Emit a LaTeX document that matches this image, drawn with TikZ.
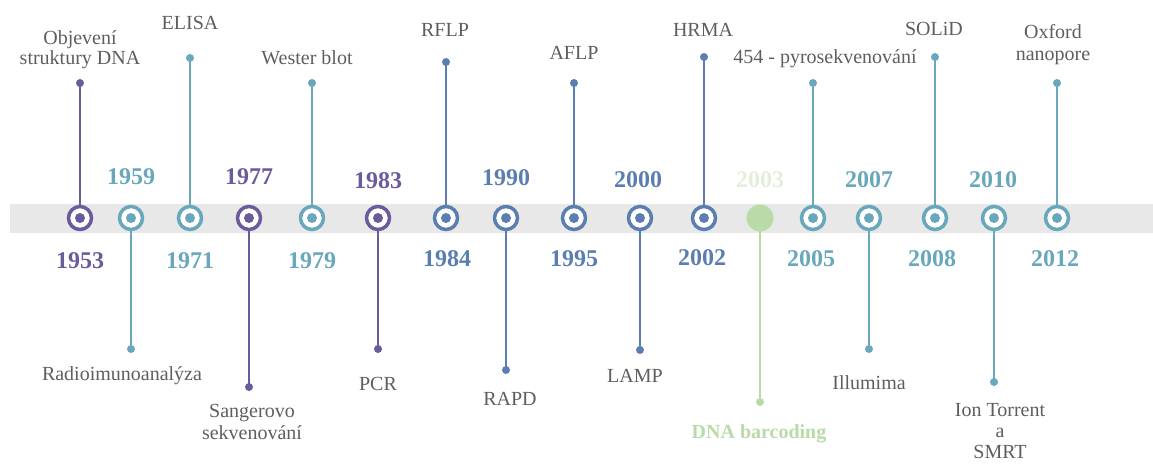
\documentclass[tikz,border=0pt]{standalone}
\usepackage{fontspec}
\setmainfont{Liberation Serif}
\usepackage{xcolor}
\definecolor{purp}{HTML}{6C5B9B}
\definecolor{teal1}{HTML}{68A7BC}
\definecolor{blu}{HTML}{5B7EB1}
\definecolor{grn}{HTML}{B9DBA7}
\definecolor{pale}{HTML}{E3EEDD}
\definecolor{band}{HTML}{E8E8E8}
\definecolor{txt}{HTML}{5E5E5E}
\tikzstyle{ring}=[circle,draw,line width=3.5pt,fill=white,minimum size=23pt,inner sep=0pt]
\tikzstyle{stem}=[line width=2.6pt]
\tikzstyle{year}=[font=\fontsize{24}{26}\selectfont\bfseries]
\tikzstyle{lbl}=[text=txt,align=center,font=\fontsize{20}{22}\selectfont]
\newcommand{\tlpoint}[4]
{  % #1 = year , #2 = x , #3 = colour , #4 = stem end y
  \node[ring,draw=#3] (y#1) at (#2,218) {};
  \fill[#3] (y#1) circle (5pt);
  \coordinate (e#1) at (#2,#4);
  \draw[stem,#3] (y#1) -- (e#1);
  \fill[#3] (e#1) circle (4pt);
}

\begin{document}
\begin{tikzpicture}[x=1pt,y=-1pt]
  \useasboundingbox (0,0) rectangle (1153,464);
  \fill[band] (10,204) rectangle (1153,233);
  \tlpoint{1953}{80}{purp}{83}
  \tlpoint{1959}{131}{teal1}{349}
  \tlpoint{1971}{190}{teal1}{58}
  \tlpoint{1977}{249}{purp}{387}
  \tlpoint{1979}{312}{teal1}{83}
  \tlpoint{1983}{378}{purp}{349}
  \tlpoint{1984}{446}{blu}{62}
  \tlpoint{1990}{506}{blu}{370}
  \tlpoint{1995}{574}{blu}{83}
  \tlpoint{2000}{640}{blu}{350}
  \tlpoint{2002}{704}{blu}{57}
  \tlpoint{2005}{813}{teal1}{83}
  \tlpoint{2007}{869}{teal1}{349}
  \tlpoint{2008}{935}{teal1}{57}
  \tlpoint{2010}{994}{teal1}{382}
  \tlpoint{2012}{1057}{teal1}{83}
  % 2003 has no ring
  \coordinate (e2003) at (760,402);
  \draw[stem,grn] (760,218) -- (e2003);
  \fill[grn] (e2003) circle (4pt);
  \node[circle,fill=grn,minimum size=27pt,inner sep=0pt] (y2003) at (760,218) {};
  % years
  \node[year,text=purp]  (t1953) at (80,261) {1953};
  \node[year,text=teal1] (t1959) at (131,177) {1959};
  \node[year,text=teal1] (t1971) at (190,261) {1971};
  \node[year,text=purp]  (t1977) at (249,177) {1977};
  \node[year,text=teal1] (t1979) at (312,261) {1979};
  \node[year,text=purp]  (t1983) at (378,181) {1983};
  \node[year,text=blu]   (t1984) at (447,259) {1984};
  \node[year,text=blu]   (t1990) at (506,178) {1990};
  \node[year,text=blu]   (t1995) at (574,259) {1995};
  \node[year,text=blu]   (t2000) at (638,180) {2000};
  \node[year,text=blu]   (t2002) at (702,258) {2002};
  \node[year,text=pale]  (t2003) at (760,180) {2003};
  \node[year,text=teal1] (t2005) at (811,259) {2005};
  \node[year,text=teal1] (t2007) at (869,180) {2007};
  \node[year,text=teal1] (t2008) at (932,259) {2008};
  \node[year,text=teal1] (t2010) at (993,180) {2010};
  \node[year,text=teal1] (t2012) at (1055,259) {2012};
  % methods
  \node[lbl,font=\fontsize{20}{20}\selectfont] (l1953) at (80,50) {Objevení\\struktury DNA};
  \node[lbl] (l1959) at (122,376) {Radioimunoanalýza};
  \node[lbl] (l1971) at (190,23) {ELISA};
  \node[lbl] (l1977) at (252,422) {Sangerovo\\sekvenování};
  \node[lbl] (l1979) at (307,58) {Wester blot};
  \node[lbl] (l1983) at (378,384) {PCR};
  \node[lbl] (l1984) at (445,30) {RFLP};
  \node[lbl] (l1990) at (510,399) {RAPD};
  \node[lbl] (l1995) at (574,53) {AFLP};
  \node[lbl] (l2000) at (635,376) {LAMP};
  \node[lbl] (l2002) at (703,30) {HRMA};
  \node[lbl,text=grn,font=\fontsize{20}{20}\selectfont\bfseries] (l2003) at (759,434) {DNA barcoding};
  \node[lbl] (l2005) at (825,59) {454 - pyrosekvenování};
  \node[lbl] (l2008) at (934,29) {SOLiD};
  \node[lbl] (l2007) at (869,383) {Illumima};
  \node[lbl,font=\fontsize{20}{21}\selectfont] (l2010) at (1000,431) {Ion Torrent\\a\\SMRT};
  \node[lbl] (l2012) at (1053,45) {Oxford\\nanopore};
\end{tikzpicture}
\end{document}
